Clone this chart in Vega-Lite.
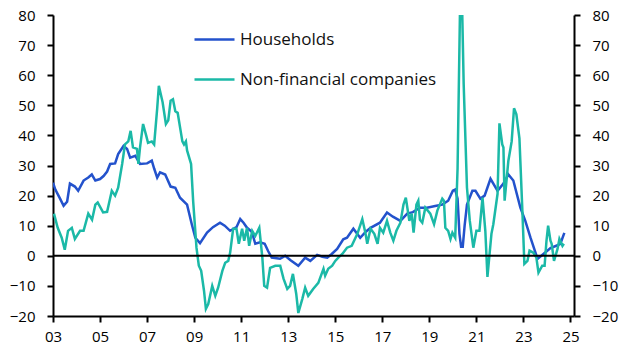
{
  "$schema": "https://vega.github.io/schema/vega-lite/v6.json",
  "width": 521,
  "height": 301,
  "autosize": {"type": "none"},
  "padding": {"left": 53, "top": 15, "right": 57, "bottom": 45},
  "config": {
    "view": {"stroke": null},
    "font": "Open Sans",
    "axis": {
      "grid": false,
      "labelFont": "Open Sans",
      "labelFontSize": 15,
      "labelColor": "#000000",
      "domainColor": "#000000",
      "domainWidth": 2,
      "tickColor": "#000000",
      "tickWidth": 2,
      "tickSize": 6,
      "title": null
    },
    "legend": {
      "labelFont": "Open Sans",
      "labelFontSize": 17,
      "labelColor": "#111111",
      "labelLimit": 0
    }
  },
  "layer": [
    {
      "data": {
        "values": [
          {"t": 2003.0, "s": "Households", "v": 24.3},
          {"t": 2003.1, "s": "Households", "v": 22},
          {"t": 2003.2, "s": "Households", "v": 20.5},
          {"t": 2003.3, "s": "Households", "v": 19},
          {"t": 2003.45, "s": "Households", "v": 16.6},
          {"t": 2003.6, "s": "Households", "v": 18},
          {"t": 2003.72, "s": "Households", "v": 24},
          {"t": 2003.93, "s": "Households", "v": 23},
          {"t": 2004.07, "s": "Households", "v": 21.6},
          {"t": 2004.3, "s": "Households", "v": 25},
          {"t": 2004.5, "s": "Households", "v": 26},
          {"t": 2004.65, "s": "Households", "v": 27},
          {"t": 2004.8, "s": "Households", "v": 25},
          {"t": 2005.0, "s": "Households", "v": 25.5},
          {"t": 2005.15, "s": "Households", "v": 26.5},
          {"t": 2005.3, "s": "Households", "v": 28},
          {"t": 2005.43, "s": "Households", "v": 30.5},
          {"t": 2005.64, "s": "Households", "v": 30.7},
          {"t": 2005.77, "s": "Households", "v": 33.8},
          {"t": 2006.0, "s": "Households", "v": 36.5},
          {"t": 2006.15, "s": "Households", "v": 35.5},
          {"t": 2006.28, "s": "Households", "v": 32.6},
          {"t": 2006.5, "s": "Households", "v": 33.2},
          {"t": 2006.7, "s": "Households", "v": 30.5},
          {"t": 2007.0, "s": "Households", "v": 30.7},
          {"t": 2007.2, "s": "Households", "v": 31.6},
          {"t": 2007.3, "s": "Households", "v": 29},
          {"t": 2007.43, "s": "Households", "v": 26},
          {"t": 2007.55, "s": "Households", "v": 27.7},
          {"t": 2007.77, "s": "Households", "v": 27},
          {"t": 2008.0, "s": "Households", "v": 23},
          {"t": 2008.2, "s": "Households", "v": 22.6},
          {"t": 2008.4, "s": "Households", "v": 19.3},
          {"t": 2008.7, "s": "Households", "v": 17},
          {"t": 2008.9, "s": "Households", "v": 10.5},
          {"t": 2009.05, "s": "Households", "v": 6},
          {"t": 2009.25, "s": "Households", "v": 4.2},
          {"t": 2009.55, "s": "Households", "v": 7.7},
          {"t": 2009.8, "s": "Households", "v": 9.5},
          {"t": 2010.1, "s": "Households", "v": 11},
          {"t": 2010.3, "s": "Households", "v": 10},
          {"t": 2010.53, "s": "Households", "v": 8.3},
          {"t": 2010.8, "s": "Households", "v": 9.5},
          {"t": 2010.96, "s": "Households", "v": 12.2},
          {"t": 2011.1, "s": "Households", "v": 11},
          {"t": 2011.25, "s": "Households", "v": 9.3},
          {"t": 2011.45, "s": "Households", "v": 8},
          {"t": 2011.6, "s": "Households", "v": 4},
          {"t": 2011.8, "s": "Households", "v": 4.5},
          {"t": 2012.0, "s": "Households", "v": 4},
          {"t": 2012.15, "s": "Households", "v": 1.5},
          {"t": 2012.3, "s": "Households", "v": -0.6},
          {"t": 2012.65, "s": "Households", "v": -1},
          {"t": 2012.87, "s": "Households", "v": 0},
          {"t": 2013.1, "s": "Households", "v": -1.5},
          {"t": 2013.43, "s": "Households", "v": -3.3},
          {"t": 2013.72, "s": "Households", "v": -0.6},
          {"t": 2013.94, "s": "Households", "v": -1.7},
          {"t": 2014.23, "s": "Households", "v": 0.3},
          {"t": 2014.45, "s": "Households", "v": -0.3},
          {"t": 2014.66, "s": "Households", "v": -0.6},
          {"t": 2014.85, "s": "Households", "v": 0.6},
          {"t": 2015.08, "s": "Households", "v": 2.3},
          {"t": 2015.34, "s": "Households", "v": 5.5},
          {"t": 2015.5, "s": "Households", "v": 6},
          {"t": 2015.77, "s": "Households", "v": 9},
          {"t": 2016.06, "s": "Households", "v": 6},
          {"t": 2016.3, "s": "Households", "v": 8},
          {"t": 2016.5, "s": "Households", "v": 9.3},
          {"t": 2016.9, "s": "Households", "v": 11},
          {"t": 2017.2, "s": "Households", "v": 14.4},
          {"t": 2017.45, "s": "Households", "v": 13},
          {"t": 2017.77, "s": "Households", "v": 11.6},
          {"t": 2018.06, "s": "Households", "v": 14},
          {"t": 2018.3, "s": "Households", "v": 14.5},
          {"t": 2018.6, "s": "Households", "v": 16},
          {"t": 2018.9, "s": "Households", "v": 16},
          {"t": 2019.3, "s": "Households", "v": 16.6},
          {"t": 2019.55, "s": "Households", "v": 17},
          {"t": 2019.8, "s": "Households", "v": 18.3},
          {"t": 2020.0, "s": "Households", "v": 21.6},
          {"t": 2020.1, "s": "Households", "v": 22},
          {"t": 2020.2, "s": "Households", "v": 19},
          {"t": 2020.28, "s": "Households", "v": 7.3},
          {"t": 2020.35, "s": "Households", "v": 3},
          {"t": 2020.42, "s": "Households", "v": 3},
          {"t": 2020.5, "s": "Households", "v": 10},
          {"t": 2020.6, "s": "Households", "v": 17},
          {"t": 2020.83, "s": "Households", "v": 21.6},
          {"t": 2020.96, "s": "Households", "v": 21.6},
          {"t": 2021.17, "s": "Households", "v": 19},
          {"t": 2021.35, "s": "Households", "v": 20},
          {"t": 2021.6, "s": "Households", "v": 25.6},
          {"t": 2021.9, "s": "Households", "v": 21.6},
          {"t": 2022.15, "s": "Households", "v": 24},
          {"t": 2022.36, "s": "Households", "v": 27},
          {"t": 2022.57, "s": "Households", "v": 25},
          {"t": 2022.87, "s": "Households", "v": 16},
          {"t": 2023.08, "s": "Households", "v": 11.6},
          {"t": 2023.3, "s": "Households", "v": 6},
          {"t": 2023.6, "s": "Households", "v": -1},
          {"t": 2023.85, "s": "Households", "v": 0.6},
          {"t": 2024.15, "s": "Households", "v": 2.6},
          {"t": 2024.45, "s": "Households", "v": 3.5},
          {"t": 2024.57, "s": "Households", "v": 4},
          {"t": 2024.74, "s": "Households", "v": 7.6},
          {"t": 2003.04, "s": "Non-financial companies", "v": 14},
          {"t": 2003.2, "s": "Non-financial companies", "v": 9.3},
          {"t": 2003.37, "s": "Non-financial companies", "v": 6},
          {"t": 2003.5, "s": "Non-financial companies", "v": 2},
          {"t": 2003.64, "s": "Non-financial companies", "v": 8.3},
          {"t": 2003.8, "s": "Non-financial companies", "v": 9.3},
          {"t": 2003.93, "s": "Non-financial companies", "v": 5.6},
          {"t": 2004.15, "s": "Non-financial companies", "v": 8.3},
          {"t": 2004.3, "s": "Non-financial companies", "v": 8.3},
          {"t": 2004.5, "s": "Non-financial companies", "v": 14},
          {"t": 2004.66, "s": "Non-financial companies", "v": 12},
          {"t": 2004.8, "s": "Non-financial companies", "v": 17},
          {"t": 2004.9, "s": "Non-financial companies", "v": 17.7},
          {"t": 2005.13, "s": "Non-financial companies", "v": 14.4},
          {"t": 2005.3, "s": "Non-financial companies", "v": 14.6},
          {"t": 2005.5, "s": "Non-financial companies", "v": 21.6},
          {"t": 2005.64, "s": "Non-financial companies", "v": 20},
          {"t": 2005.77, "s": "Non-financial companies", "v": 22.6},
          {"t": 2005.94, "s": "Non-financial companies", "v": 30.5},
          {"t": 2006.06, "s": "Non-financial companies", "v": 37},
          {"t": 2006.2, "s": "Non-financial companies", "v": 38},
          {"t": 2006.3, "s": "Non-financial companies", "v": 41.5},
          {"t": 2006.4, "s": "Non-financial companies", "v": 36},
          {"t": 2006.57, "s": "Non-financial companies", "v": 35.5},
          {"t": 2006.63, "s": "Non-financial companies", "v": 30.5},
          {"t": 2006.7, "s": "Non-financial companies", "v": 36},
          {"t": 2006.83, "s": "Non-financial companies", "v": 43.8},
          {"t": 2006.96, "s": "Non-financial companies", "v": 40},
          {"t": 2007.04, "s": "Non-financial companies", "v": 37.5},
          {"t": 2007.2, "s": "Non-financial companies", "v": 38},
          {"t": 2007.3, "s": "Non-financial companies", "v": 37},
          {"t": 2007.43, "s": "Non-financial companies", "v": 49},
          {"t": 2007.5, "s": "Non-financial companies", "v": 56.5},
          {"t": 2007.66, "s": "Non-financial companies", "v": 51},
          {"t": 2007.8, "s": "Non-financial companies", "v": 43.8},
          {"t": 2007.9, "s": "Non-financial companies", "v": 45},
          {"t": 2008.0, "s": "Non-financial companies", "v": 51.5},
          {"t": 2008.1, "s": "Non-financial companies", "v": 52},
          {"t": 2008.2, "s": "Non-financial companies", "v": 48},
          {"t": 2008.3, "s": "Non-financial companies", "v": 47.5},
          {"t": 2008.5, "s": "Non-financial companies", "v": 38},
          {"t": 2008.57, "s": "Non-financial companies", "v": 37},
          {"t": 2008.65, "s": "Non-financial companies", "v": 38},
          {"t": 2008.7, "s": "Non-financial companies", "v": 35},
          {"t": 2008.87, "s": "Non-financial companies", "v": 30.5},
          {"t": 2008.96, "s": "Non-financial companies", "v": 18},
          {"t": 2009.1, "s": "Non-financial companies", "v": 2.7},
          {"t": 2009.2, "s": "Non-financial companies", "v": -3.3},
          {"t": 2009.3, "s": "Non-financial companies", "v": -5},
          {"t": 2009.42, "s": "Non-financial companies", "v": -11.6},
          {"t": 2009.5, "s": "Non-financial companies", "v": -17.6},
          {"t": 2009.6, "s": "Non-financial companies", "v": -16},
          {"t": 2009.77, "s": "Non-financial companies", "v": -10},
          {"t": 2009.9, "s": "Non-financial companies", "v": -13.3},
          {"t": 2010.02, "s": "Non-financial companies", "v": -10.6},
          {"t": 2010.2, "s": "Non-financial companies", "v": -5},
          {"t": 2010.32, "s": "Non-financial companies", "v": -2.3},
          {"t": 2010.45, "s": "Non-financial companies", "v": -1.7},
          {"t": 2010.53, "s": "Non-financial companies", "v": 1},
          {"t": 2010.66, "s": "Non-financial companies", "v": 9},
          {"t": 2010.8, "s": "Non-financial companies", "v": 9},
          {"t": 2010.9, "s": "Non-financial companies", "v": 4},
          {"t": 2011.04, "s": "Non-financial companies", "v": 9},
          {"t": 2011.13, "s": "Non-financial companies", "v": 5},
          {"t": 2011.25, "s": "Non-financial companies", "v": 9.3},
          {"t": 2011.34, "s": "Non-financial companies", "v": 3.3},
          {"t": 2011.47, "s": "Non-financial companies", "v": 8.3},
          {"t": 2011.6, "s": "Non-financial companies", "v": 6.6},
          {"t": 2011.77, "s": "Non-financial companies", "v": 9.3},
          {"t": 2011.9, "s": "Non-financial companies", "v": -0.6},
          {"t": 2011.98, "s": "Non-financial companies", "v": -10},
          {"t": 2012.1, "s": "Non-financial companies", "v": -10.6},
          {"t": 2012.23, "s": "Non-financial companies", "v": -4},
          {"t": 2012.45, "s": "Non-financial companies", "v": -3.3},
          {"t": 2012.66, "s": "Non-financial companies", "v": -3.3},
          {"t": 2012.8, "s": "Non-financial companies", "v": -7.6},
          {"t": 2012.96, "s": "Non-financial companies", "v": -11},
          {"t": 2013.08, "s": "Non-financial companies", "v": -10},
          {"t": 2013.2, "s": "Non-financial companies", "v": -6},
          {"t": 2013.34, "s": "Non-financial companies", "v": -12.6},
          {"t": 2013.43, "s": "Non-financial companies", "v": -19},
          {"t": 2013.6, "s": "Non-financial companies", "v": -14.3},
          {"t": 2013.72, "s": "Non-financial companies", "v": -10.6},
          {"t": 2013.85, "s": "Non-financial companies", "v": -13.3},
          {"t": 2014.06, "s": "Non-financial companies", "v": -11},
          {"t": 2014.28, "s": "Non-financial companies", "v": -9},
          {"t": 2014.5, "s": "Non-financial companies", "v": -4.3},
          {"t": 2014.57, "s": "Non-financial companies", "v": -6.6},
          {"t": 2014.7, "s": "Non-financial companies", "v": -4.3},
          {"t": 2014.87, "s": "Non-financial companies", "v": -3.3},
          {"t": 2015.0, "s": "Non-financial companies", "v": -1.7},
          {"t": 2015.13, "s": "Non-financial companies", "v": -0.6},
          {"t": 2015.3, "s": "Non-financial companies", "v": 0.6},
          {"t": 2015.5, "s": "Non-financial companies", "v": 2.7},
          {"t": 2015.7, "s": "Non-financial companies", "v": 3.3},
          {"t": 2015.94, "s": "Non-financial companies", "v": 7.3},
          {"t": 2016.15, "s": "Non-financial companies", "v": 12.2},
          {"t": 2016.28, "s": "Non-financial companies", "v": 7.7},
          {"t": 2016.36, "s": "Non-financial companies", "v": 4},
          {"t": 2016.5, "s": "Non-financial companies", "v": 9},
          {"t": 2016.66, "s": "Non-financial companies", "v": 7.3},
          {"t": 2016.8, "s": "Non-financial companies", "v": 4},
          {"t": 2016.9, "s": "Non-financial companies", "v": 9.3},
          {"t": 2017.04, "s": "Non-financial companies", "v": 7.7},
          {"t": 2017.2, "s": "Non-financial companies", "v": 11.6},
          {"t": 2017.34, "s": "Non-financial companies", "v": 7.7},
          {"t": 2017.47, "s": "Non-financial companies", "v": 5},
          {"t": 2017.6, "s": "Non-financial companies", "v": 8.3},
          {"t": 2017.77, "s": "Non-financial companies", "v": 11},
          {"t": 2017.9, "s": "Non-financial companies", "v": 17},
          {"t": 2018.0, "s": "Non-financial companies", "v": 19.3},
          {"t": 2018.15, "s": "Non-financial companies", "v": 11.6},
          {"t": 2018.25, "s": "Non-financial companies", "v": 14},
          {"t": 2018.33, "s": "Non-financial companies", "v": 7.7},
          {"t": 2018.45, "s": "Non-financial companies", "v": 17},
          {"t": 2018.53, "s": "Non-financial companies", "v": 18.3},
          {"t": 2018.6, "s": "Non-financial companies", "v": 12},
          {"t": 2018.7, "s": "Non-financial companies", "v": 11},
          {"t": 2018.83, "s": "Non-financial companies", "v": 16},
          {"t": 2019.04, "s": "Non-financial companies", "v": 14},
          {"t": 2019.2, "s": "Non-financial companies", "v": 10.5},
          {"t": 2019.34, "s": "Non-financial companies", "v": 15},
          {"t": 2019.55, "s": "Non-financial companies", "v": 19},
          {"t": 2019.62, "s": "Non-financial companies", "v": 18.3},
          {"t": 2019.68, "s": "Non-financial companies", "v": 9.3},
          {"t": 2019.8, "s": "Non-financial companies", "v": 8.3},
          {"t": 2019.9, "s": "Non-financial companies", "v": 5.6},
          {"t": 2019.98, "s": "Non-financial companies", "v": 7.7},
          {"t": 2020.1, "s": "Non-financial companies", "v": 6},
          {"t": 2020.2, "s": "Non-financial companies", "v": 29},
          {"t": 2020.3, "s": "Non-financial companies", "v": 80},
          {"t": 2020.4, "s": "Non-financial companies", "v": 80},
          {"t": 2020.46, "s": "Non-financial companies", "v": 57},
          {"t": 2020.6, "s": "Non-financial companies", "v": 22.6},
          {"t": 2020.72, "s": "Non-financial companies", "v": 11.6},
          {"t": 2020.87, "s": "Non-financial companies", "v": 2.7},
          {"t": 2021.0, "s": "Non-financial companies", "v": 8.3},
          {"t": 2021.13, "s": "Non-financial companies", "v": 8.3},
          {"t": 2021.26, "s": "Non-financial companies", "v": 19.3},
          {"t": 2021.38, "s": "Non-financial companies", "v": 8.3},
          {"t": 2021.47, "s": "Non-financial companies", "v": -7},
          {"t": 2021.64, "s": "Non-financial companies", "v": 7.3},
          {"t": 2021.72, "s": "Non-financial companies", "v": 10.5},
          {"t": 2021.9, "s": "Non-financial companies", "v": 20.6},
          {"t": 2021.98, "s": "Non-financial companies", "v": 44},
          {"t": 2022.1, "s": "Non-financial companies", "v": 37},
          {"t": 2022.15, "s": "Non-financial companies", "v": 36},
          {"t": 2022.2, "s": "Non-financial companies", "v": 18.3},
          {"t": 2022.36, "s": "Non-financial companies", "v": 31.6},
          {"t": 2022.5, "s": "Non-financial companies", "v": 38},
          {"t": 2022.6, "s": "Non-financial companies", "v": 49},
          {"t": 2022.7, "s": "Non-financial companies", "v": 47},
          {"t": 2022.83, "s": "Non-financial companies", "v": 39},
          {"t": 2022.96, "s": "Non-financial companies", "v": 14},
          {"t": 2023.04, "s": "Non-financial companies", "v": -2.7},
          {"t": 2023.17, "s": "Non-financial companies", "v": -1.7},
          {"t": 2023.26, "s": "Non-financial companies", "v": 1.7},
          {"t": 2023.43, "s": "Non-financial companies", "v": 1},
          {"t": 2023.55, "s": "Non-financial companies", "v": -0.6},
          {"t": 2023.64, "s": "Non-financial companies", "v": -5.6},
          {"t": 2023.8, "s": "Non-financial companies", "v": -3.3},
          {"t": 2023.9, "s": "Non-financial companies", "v": -3.3},
          {"t": 2023.98, "s": "Non-financial companies", "v": 5},
          {"t": 2024.05, "s": "Non-financial companies", "v": 10},
          {"t": 2024.15, "s": "Non-financial companies", "v": 5},
          {"t": 2024.2, "s": "Non-financial companies", "v": 4},
          {"t": 2024.3, "s": "Non-financial companies", "v": -1.7},
          {"t": 2024.45, "s": "Non-financial companies", "v": 2.3},
          {"t": 2024.53, "s": "Non-financial companies", "v": 5.6},
          {"t": 2024.66, "s": "Non-financial companies", "v": 3.3},
          {"t": 2024.72, "s": "Non-financial companies", "v": 4}
        ]
      },
      "mark": {"type": "line", "strokeWidth": 2.5, "clip": true},
      "encoding": {
        "x": {
          "field": "t",
          "type": "quantitative",
          "scale": {"domain": [2003, 2025.15], "nice": false, "zero": false},
          "axis": {
            "values": [2003, 2005, 2007, 2009, 2011, 2013, 2015, 2017, 2019, 2021, 2023, 2025],
            "labelExpr": "substring(toString(datum.value), 2, 4)",
            "labelFlush": false,
            "labelPadding": 7
          }
        },
        "y": {
          "field": "v",
          "type": "quantitative",
          "scale": {"domain": [-20, 80], "nice": false, "zero": false},
          "axis": {
            "orient": "left",
            "values": [-20, -10, 0, 10, 20, 30, 40, 50, 60, 70, 80],
            "labelPadding": 12
          }
        },
        "color": {
          "field": "s",
          "type": "nominal",
          "scale": {
            "domain": ["Households", "Non-financial companies"],
            "range": ["#2352CC", "#1BB9A7"]
          },
          "legend": {
            "title": null,
            "orient": "none",
            "legendX": 140,
            "legendY": 3,
            "direction": "vertical",
            "symbolType": "stroke",
            "symbolSize": 1600,
            "symbolStrokeWidth": 2.5,
            "rowPadding": 10,
            "labelOffset": 4,
            "labelLimit": 0,
            "padding": 0
          }
        }
      }
    },
    {
      "data": {"values": [{"z": 0}]},
      "mark": {"type": "rule", "color": "#000000", "strokeWidth": 2},
      "encoding": {
        "y": {
          "field": "z",
          "type": "quantitative",
          "scale": {"domain": [-20, 80], "nice": false, "zero": false},
          "axis": {
            "orient": "right",
            "values": [-20, -10, 0, 10, 20, 30, 40, 50, 60, 70, 80],
            "labelPadding": 12
          }
        }
      }
    }
  ],
  "resolve": {"scale": {"y": "independent"}}
}
